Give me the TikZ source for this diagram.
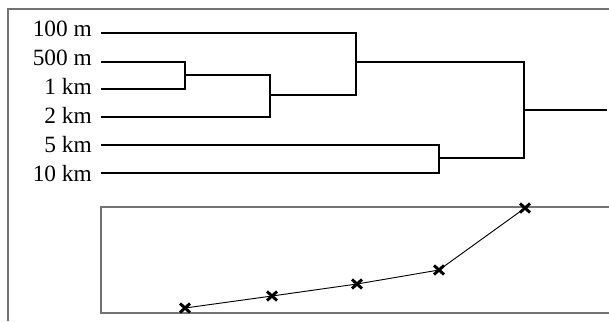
\documentclass[tikz,border=0pt]{standalone}
\usepackage{fontspec}
\setmainfont{Liberation Serif}
\begin{document}
\begin{tikzpicture}[x=0.75pt,y=-0.75pt,
  frameline/.style={draw=black!55,line width=0.8pt},
  tree/.style={draw=black,line width=1.3pt},
  curve/.style={draw=black,line width=0.7pt},
  leaflabel/.style={anchor=base east,inner sep=0pt,
    font=\fontsize{17.5}{20}\selectfont},
  xmark/.style={line width=2.2pt}]
\useasboundingbox (0,0) rectangle (609,321);
% outer frame (open at right and bottom)
\draw[frameline] (609,9) -- (8,9) -- (8,321);
% plot frame
\draw[frameline] (609,207) -- (101,207) -- (101,313) -- (609,313);

% leaf labels
\node[leaflabel] (l1) at (92,37)  {100 m};
\node[leaflabel] (l2) at (92,65)  {500 m};
\node[leaflabel] (l3) at (92,94)  {1 km};
\node[leaflabel] (l4) at (92,123) {2 km};
\node[leaflabel] (l5) at (92,152) {5 km};
\node[leaflabel] (l6) at (92,181) {10 km};

% leaf ends
\coordinate (a1) at (101,33);
\coordinate (a2) at (101,62);
\coordinate (a3) at (101,89);
\coordinate (a4) at (101,117);
\coordinate (a5) at (101,145);
\coordinate (a6) at (101,173);
% merge heights
\coordinate (m23) at (185,75);
\coordinate (m234) at (270,95);
\coordinate (m1234) at (356,62);
\coordinate (m56) at (439,158);
\coordinate (root) at (524,110);
\coordinate (rootend) at (607,110);

\draw[tree] (a2) -| (m23) |- (a3);
\draw[tree] (m23) -| (m234) |- (a4);
\draw[tree] (a1) -| (m1234) |- (m234);
\draw[tree] (a5) -| (m56) |- (a6);
\draw[tree] (m1234) -| (root) |- (m56);
\draw[tree] (root) -- (rootend);

% curve with cross markers
\coordinate (p1) at (185,308);
\coordinate (p2) at (272,296);
\coordinate (p3) at (357,284);
\coordinate (p4) at (439,270);
\coordinate (p5) at (525,208);
\draw[curve] (p1) -- (p2) -- (p3) -- (p4) -- (p5);
\foreach \p in {p1,p2,p3,p4,p5}
  \draw[xmark] ([shift={(-5,-4.5)}]\p) -- ([shift={(5,4.5)}]\p)
               ([shift={(-5,4.5)}]\p) -- ([shift={(5,-4.5)}]\p);
\end{tikzpicture}
\end{document}
